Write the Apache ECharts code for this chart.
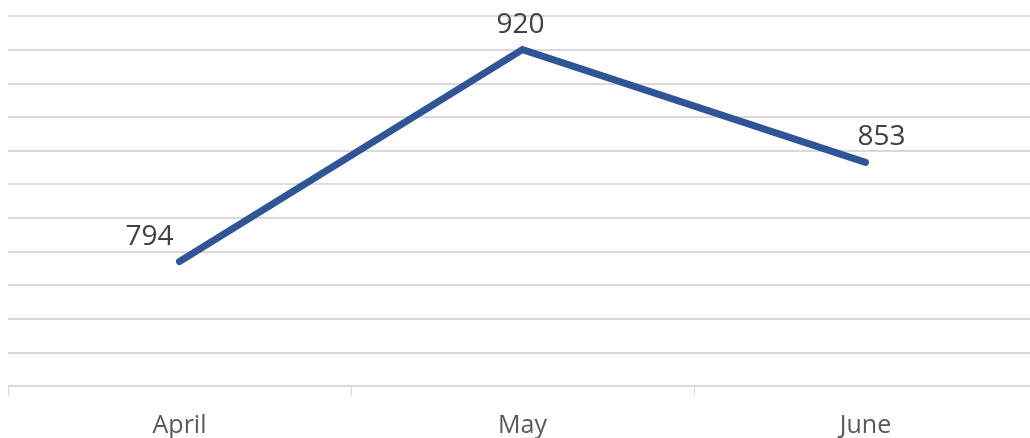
<!DOCTYPE html>
<html><head><meta charset="utf-8">
<script src="https://cdn.jsdelivr.net/npm/echarts@6/dist/echarts.min.js"></script>
<style>html,body{margin:0;padding:0;background:#fff;overflow:hidden}#c{width:1037px;height:438px}</style>
</head><body><div id="c"></div>
<script>
const categories = ['April', 'May', 'June'];
const values = [794, 920, 853];
const labelOffsets = [[-30, 0], [-2, 0], [16, 0]];

const chart = echarts.init(document.getElementById('c'), null, {renderer: 'canvas'});
chart.setOption({
  animation: false,
  grid: {left: 8, right: 0, top: 16, bottom: 52, containLabel: false},
  xAxis: {
    type: 'category',
    data: categories,
    boundaryGap: true,
    axisLine: {show: true, lineStyle: {color: '#d9d9d9', width: 1}},
    axisTick: {show: true, length: 10, lineStyle: {color: '#d9d9d9'}},
    axisLabel: {color: '#595959', fontSize: 25, fontFamily: 'Open Sans', margin: 27}
  },
  yAxis: {
    type: 'value',
    min: 720, max: 940, interval: 20,
    axisLine: {show: false},
    axisTick: {show: false},
    axisLabel: {show: false},
    splitLine: {lineStyle: {color: '#d9d9d9', width: 2}}
  },
  series: [{
    type: 'line',
    data: values.map((v, i) => ({value: v, label: {offset: labelOffsets[i]}})),
    symbol: 'circle',
    symbolSize: 2,
    showSymbol: true,
    itemStyle: {color: 'rgba(0,0,0,0)'},
    lineStyle: {color: '#2f5597', width: 7, cap: 'round', join: 'miter'},
    label: {show: true, position: 'top', distance: 10, color: '#404040', fontSize: 28, fontFamily: 'Open Sans'}
  }]
});
</script></body></html>
